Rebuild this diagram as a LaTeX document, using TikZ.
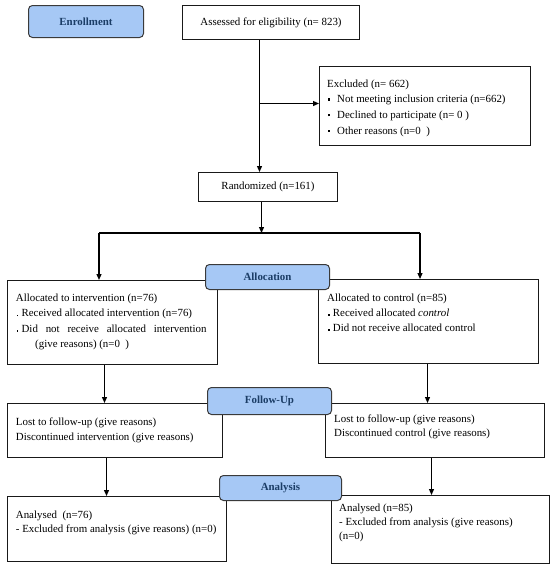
\documentclass[tikz,border=0pt]{standalone}
\usepackage{fontspec}
\setmainfont{Liberation Serif}
\usetikzlibrary{arrows.meta,calc}
\definecolor{lblfill}{HTML}{A6C8F5}
\definecolor{lbltext}{HTML}{1B3D66}
\definecolor{lbldraw}{HTML}{3A3A3A}
\newcommand{\sqb}{\makebox[10pt][l]{\hspace{0.6pt}\rule[2.3pt]{2.2pt}{2.2pt}}}
\newcommand{\smb}{\makebox[5.7pt][l]{\hspace{0.8pt}\rule[0.5pt]{1.7pt}{1.7pt}}}
\begin{document}
\begin{tikzpicture}[x=1pt,y=-1pt,
  box/.style={draw=black!90, line width=1pt, inner sep=0pt, anchor=north west},
  tf/.style={font=\fontsize{10.9}{15.5}\selectfont},
  txt/.style={inner sep=0pt, anchor=north west, align=left},
  lbl/.style={draw=lbldraw, fill=lblfill, rounded corners=4pt, line width=1pt,
     font=\fontsize{10.9}{13}\selectfont\bfseries, text=lbltext, anchor=north west, inner sep=0pt},
  arr/.style={line width=1.2pt, -{Triangle[length=6pt,width=5pt]}},
  ln/.style={line width=1.2pt}]
\useasboundingbox (0,0) rectangle (550,565);

% boxes
\node[box, tf, minimum width=177, minimum height=34] (assess) at (182,5) {Assessed for eligibility (n= 823)};
\node[box, minimum width=211, minimum height=79] (excl) at (319,66) {};
\node[txt, font=\fontsize{10.9}{15.7}\selectfont] (exclT) at (327,76) {\strut Excluded (n= 662)\\
  \strut\sqb Not meeting inclusion criteria (n=662)\\
  \strut\sqb Declined to participate (n= 0 )\\
  \strut\sqb Other reasons (n=0\ \ )};
\node[box, tf, minimum width=139, minimum height=29] (rand) at (198,172) {Randomized (n=161)};

\node[box, minimum width=210, minimum height=84] (int) at (7,280) {};
\node[txt, font=\fontsize{10.9}{15.6}\selectfont] (intT) at (15.7,290) {\strut Allocated to intervention (n=76)\\
  \strut\smb Received allocated intervention (n=76)\\
  \strut\smb\makebox[185pt][s]{Did not receive allocated intervention}\\
  \strut\hspace{19.3pt}(give reasons) (n=0\ \ )};

\node[box, minimum width=220, minimum height=84] (ctrl) at (318,279) {};
\node[txt, font=\fontsize{10.9}{15}\selectfont] (ctrlT) at (327,290.5) {\strut Allocated to control (n=85)\\
  \strut\smb Received allocated \textit{control}\\
  \strut\smb Did not receive allocated control};

\node[box, minimum width=215, minimum height=54] (fuL) at (7,403) {};
\node[txt, font=\fontsize{10.9}{15}\selectfont] (fuLT) at (15.7,414.3) {\strut Lost to follow-up (give reasons)\\
  \strut Discontinued intervention (give reasons)};

\node[box, minimum width=219, minimum height=54] (fuR) at (325,403) {};
\node[txt, font=\fontsize{10.9}{14}\selectfont] (fuRT) at (334,412) {\strut Lost to follow-up (give reasons)\\
  \strut Discontinued control (give reasons)};

\node[box, minimum width=219, minimum height=65] (anL) at (7,496) {};
\node[txt, font=\fontsize{10.9}{14}\selectfont] (anLT) at (15.7,508) {\strut Analysed\ \ (n=76)\\
  \strut- Excluded from analysis (give reasons) (n=0)};

\node[box, minimum width=218, minimum height=68] (anR) at (331,495) {};
\node[txt, font=\fontsize{10.9}{14}\selectfont] (anRT) at (339,501) {\strut Analysed (n=85)\\
  \strut- Excluded from analysis (give reasons)\\
  \strut(n=0)};

% connectors
\draw[arr] ([xshift=-11.5pt]assess.south) coordinate (vA) -- (vA |- rand.north);
\coordinate (exIn) at ([yshift=2.5pt]excl.west);
\draw[arr] (exIn -| vA) -- (exIn);
\coordinate (brL) at (99,233);
\coordinate (brR) at (420,233);
\draw[arr] ([xshift=-6.5pt]rand.south) coordinate (vR) -- (vR |- brL);
\draw[ln] (brL) -- (brR);
\draw[arr] (brL) -- (brL |- int.north);
\draw[arr] (brR) -- (brR |- ctrl.north);
\draw[arr] ([xshift=-8pt]int.south) coordinate (v1) -- (v1 |- fuL.north);
\draw[arr] ([xshift=-1pt]ctrl.south) coordinate (v2) -- (v2 |- fuR.north);
\draw[arr] ([xshift=-8.5pt]fuL.south) coordinate (v3) -- (v3 |- anL.north);
\draw[arr] ([xshift=-3.5pt]fuR.south) coordinate (v4) -- (v4 |- anR.north);

% stage labels
\node[lbl, minimum width=115, minimum height=32] (enr) at (28,5) {Enrollment};
\node[lbl, minimum width=124, minimum height=25] (alloc) at (205,264) {Allocation};
\node[lbl, minimum width=124, minimum height=27] (fu) at (207,387) {Follow-Up};
\node[lbl, minimum width=122, minimum height=25] (ana) at (219,475) {Analysis};
\end{tikzpicture}
\end{document}
